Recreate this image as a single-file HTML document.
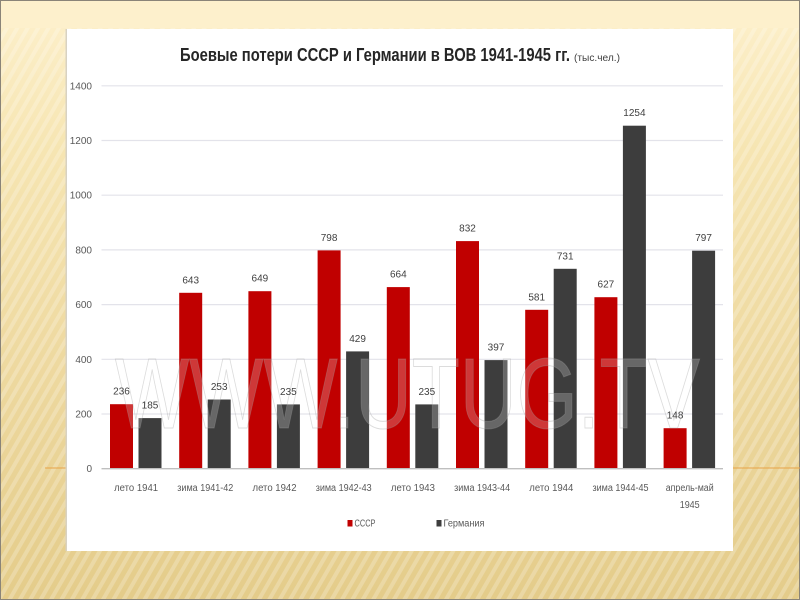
<!DOCTYPE html>
<html>
<head>
<meta charset="utf-8">
<style>
html,body{margin:0;padding:0;width:800px;height:600px;overflow:hidden;background:#f3e1a9;}
svg{display:block;}
text{font-family:"Liberation Sans","Noto Sans CJK SC",sans-serif;}
</style>
</head>
<body>
<svg width="800" height="600" viewBox="0 0 800 600" xmlns="http://www.w3.org/2000/svg">
  <defs>
    <linearGradient id="bg" x1="0" y1="0" x2="0" y2="1">
      <stop offset="0" stop-color="#fdf0cc"/>
      <stop offset="0.25" stop-color="#f6e5b2"/>
      <stop offset="0.6" stop-color="#eed9a0"/>
      <stop offset="1" stop-color="#e4cc8a"/>
    </linearGradient>
    <pattern id="stripes" width="9" height="9" patternUnits="userSpaceOnUse" patternTransform="rotate(30)">
      <rect x="0" y="0" width="4" height="9" fill="#ffffff" fill-opacity="0.22"/>
    </pattern>
  </defs>

  <!-- slide background -->
  <rect x="0" y="0" width="800" height="600" fill="url(#bg)"/>
  <rect x="0" y="28" width="800" height="572" fill="url(#stripes)"/>
  <rect x="0" y="0" width="800" height="28" fill="#fdf0cc"/>
  <rect x="0.5" y="0.5" width="799" height="599" fill="none" stroke="#8a8478" stroke-width="1"/>

  <!-- orange line -->
  <line x1="45" y1="468" x2="800" y2="468" stroke="#e8a347" stroke-width="1"/>

  <!-- chart box -->
  <rect x="65.5" y="29" width="2" height="522" fill="#d8d2c2"/>
  <rect x="67" y="29" width="666" height="522" fill="#ffffff"/>

  <!-- title -->
  <text x="180" y="61" font-size="18" font-weight="bold" fill="#262626" textLength="390" lengthAdjust="spacingAndGlyphs">Боевые потери СССР и Германии в ВОВ 1941-1945 гг.</text>
  <text x="574" y="61" font-size="10" fill="#404040" textLength="46" lengthAdjust="spacingAndGlyphs">(тыс.чел.)</text>

  <!-- gridlines -->
  <g stroke="#e3e3ea" stroke-width="1.2">
    <line x1="101.5" y1="85.8" x2="723" y2="85.8"/>
    <line x1="101.5" y1="140.5" x2="723" y2="140.5"/>
    <line x1="101.5" y1="195.2" x2="723" y2="195.2"/>
    <line x1="101.5" y1="249.9" x2="723" y2="249.9"/>
    <line x1="101.5" y1="304.6" x2="723" y2="304.6"/>
    <line x1="101.5" y1="359.3" x2="723" y2="359.3"/>
    <line x1="101.5" y1="414.0" x2="723" y2="414.0"/>
  </g>

  <!-- y tick labels -->
  <g font-size="10" fill="#595959" text-anchor="end">
    <text x="92" y="89.3">1400</text>
    <text x="92" y="144">1200</text>
    <text x="92" y="198.7">1000</text>
    <text x="92" y="253.4">800</text>
    <text x="92" y="308.1">600</text>
    <text x="92" y="362.8">400</text>
    <text x="92" y="417.5">200</text>
    <text x="92" y="472.2">0</text>
  </g>

  <!-- USSR bars -->
  <g fill="#c00000">
    <rect x="110" y="404.2" width="23" height="64.5"/>
    <rect x="179.2" y="292.8" width="23" height="175.9"/>
    <rect x="248.4" y="291.2" width="23" height="177.5"/>
    <rect x="317.6" y="250.4" width="23" height="218.3"/>
    <rect x="386.8" y="287.1" width="23" height="181.6"/>
    <rect x="456" y="241.1" width="23" height="227.6"/>
    <rect x="525.2" y="309.8" width="23" height="158.9"/>
    <rect x="594.4" y="297.2" width="23" height="171.5"/>
    <rect x="663.6" y="428.2" width="23" height="40.5"/>
  </g>
  <!-- Germany bars -->
  <g fill="#3d3d3d">
    <rect x="138.5" y="418.1" width="23" height="50.6"/>
    <rect x="207.7" y="399.5" width="23" height="69.2"/>
    <rect x="276.9" y="404.4" width="23" height="64.3"/>
    <rect x="346.1" y="351.4" width="23" height="117.3"/>
    <rect x="415.3" y="404.4" width="23" height="64.3"/>
    <rect x="484.5" y="360.1" width="23" height="108.6"/>
    <rect x="553.7" y="268.8" width="23" height="199.9"/>
    <rect x="622.9" y="125.7" width="23" height="343.0"/>
    <rect x="692.1" y="250.7" width="23" height="218.0"/>
  </g>

  <!-- axis line -->
  <line x1="101.5" y1="468.7" x2="723" y2="468.7" stroke="#bfbfbf" stroke-width="1.3"/>

  <!-- watermark -->
  <text x="115" y="428" font-size="100" fill="#ffffff" fill-opacity="0.22" stroke="#9a9a9a" stroke-opacity="0.35" stroke-width="1" textLength="585" lengthAdjust="spacingAndGlyphs">WWW.UTUG.TV</text>

  <!-- value labels -->
  <g font-size="10" fill="#404040" text-anchor="middle">
    <text x="121.5" y="394.7">236</text>
    <text x="190.7" y="283.3">643</text>
    <text x="259.9" y="281.7">649</text>
    <text x="329.1" y="240.9">798</text>
    <text x="398.3" y="277.6">664</text>
    <text x="467.5" y="231.6">832</text>
    <text x="536.7" y="300.3">581</text>
    <text x="605.9" y="287.7">627</text>
    <text x="675.1" y="418.7">148</text>

    <text x="150" y="408.6">185</text>
    <text x="219.2" y="390">253</text>
    <text x="288.4" y="394.9">235</text>
    <text x="357.6" y="341.9">429</text>
    <text x="426.8" y="394.9">235</text>
    <text x="496" y="350.6">397</text>
    <text x="565.2" y="259.3">731</text>
    <text x="634.4" y="116.2">1254</text>
    <text x="703.6" y="241.2">797</text>
  </g>

  <!-- category labels -->
  <g font-size="10" fill="#595959" text-anchor="middle">
    <text x="136.1" y="491" textLength="44" lengthAdjust="spacingAndGlyphs">лето 1941</text>
    <text x="205.3" y="491" textLength="56" lengthAdjust="spacingAndGlyphs">зима 1941-42</text>
    <text x="274.5" y="491" textLength="44" lengthAdjust="spacingAndGlyphs">лето 1942</text>
    <text x="343.7" y="491" textLength="56" lengthAdjust="spacingAndGlyphs">зима 1942-43</text>
    <text x="412.9" y="491" textLength="44" lengthAdjust="spacingAndGlyphs">лето 1943</text>
    <text x="482.1" y="491" textLength="56" lengthAdjust="spacingAndGlyphs">зима 1943-44</text>
    <text x="551.3" y="491" textLength="44" lengthAdjust="spacingAndGlyphs">лето 1944</text>
    <text x="620.5" y="491" textLength="56" lengthAdjust="spacingAndGlyphs">зима 1944-45</text>
    <text x="689.7" y="491" textLength="48" lengthAdjust="spacingAndGlyphs">апрель-май</text>
    <text x="689.7" y="508" textLength="20" lengthAdjust="spacingAndGlyphs">1945</text>
  </g>

  <!-- legend -->
  <rect x="347.5" y="520" width="5" height="6.5" fill="#c00000"/>
  <text x="354.5" y="526.5" font-size="10" fill="#595959" textLength="21" lengthAdjust="spacingAndGlyphs">СССР</text>
  <rect x="436.5" y="520" width="5" height="6.5" fill="#3d3d3d"/>
  <text x="443.5" y="526.5" font-size="10" fill="#595959" textLength="41" lengthAdjust="spacingAndGlyphs">Германия</text>
</svg>
</body>
</html>
